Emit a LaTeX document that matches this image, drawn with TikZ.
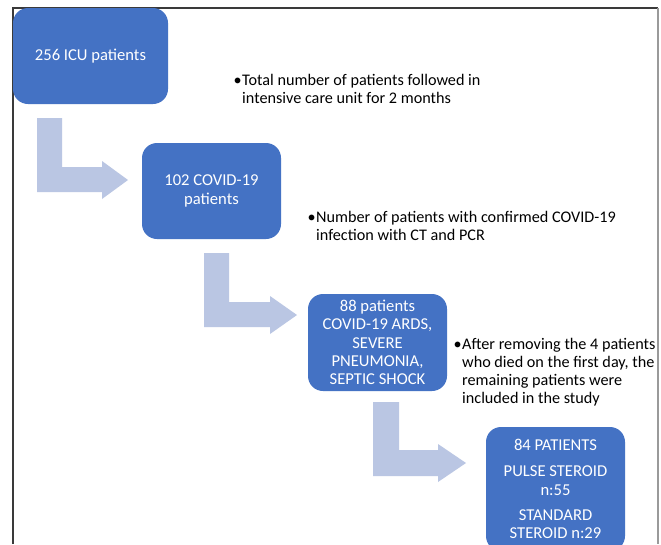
\documentclass[tikz,border=0pt]{standalone}
\usepackage{fontspec}
\setmainfont{Carlito}
\begin{document}
\begin{tikzpicture}[x=1pt,y=-1pt,
  box/.style={fill=boxblue, rounded corners=15pt, text=white, align=center, inner sep=0pt,
    font=\fontsize{16.6}{18.3}\selectfont},
  flow/.style={fill=arrowblue, draw=none},
  note/.style={anchor=north west, align=left, inner sep=0pt, text=black,
    font=\fontsize{16.2}{18}\selectfont},
  bull/.style={anchor=north east, inner sep=0pt, text=black,
    font=\fontsize{16.2}{18}\selectfont}]
\definecolor{boxblue}{HTML}{4472C4}
\definecolor{arrowblue}{HTML}{BAC6E3}
\definecolor{framedark}{HTML}{3A3A3A}
\definecolor{framegray}{HTML}{9A9A9A}
\useasboundingbox (0,0) rectangle (661,544);
\clip (0,0) rectangle (661,544);
\fill[white] (0,0) rectangle (661,544);
% frame
\draw[framedark, line width=1.3pt] (13,544) -- (13,8) -- (658,8);
\draw[framegray, line width=2.6pt] (658,8) -- (658,544);
% boxes
\node[box, minimum width=155pt, minimum height=96pt] (b1) at (90.5,56) {256 ICU patients};
\node[box, minimum width=139pt, minimum height=96pt] (b2) at (211.5,191) {102 COVID-19\\patients};
\node[box, minimum width=139pt, minimum height=97pt] (b3) at (377.5,342.5)
  {88 patients\\COVID-19 ARDS,\\SEVERE\\PNEUMONIA,\\SEPTIC SHOCK};
\node[box, minimum width=139pt, minimum height=124pt] (b4) at (555.5,489)
  {84 PATIENTS\\[8pt]PULSE STEROID\\n:55\\[7pt]STANDARD\\STEROID n:29};
% bent arrows
\fill[flow] (37,118) -- (62,118) -- (62,167) -- (102,167) -- (102,161) -- (128,180)
  -- (102,199) -- (102,192) -- (37,192) -- cycle;
\fill[flow] (204,253) -- (229,253) -- (229,302) -- (270,302) -- (270,296) -- (297,315)
  -- (270,334) -- (270,327) -- (204,327) -- cycle;
\fill[flow] (373,402) -- (399,402) -- (399,450) -- (438,450) -- (438,444) -- (466,463)
  -- (438,482) -- (438,476) -- (373,476) -- cycle;
% notes
\node[note] (n1) at (242,73) {\strut Total number of patients followed in\\intensive care unit for 2 months};
\node[bull] (d1) at (n1.north west) {\strut\textbullet};
\node[note] (n2) at (316,209.6) {\strut Number of patients with confirmed COVID-19\\infection with CT and PCR};
\node[bull] (d2) at (n2.north west) {\strut\textbullet};
\node[note] (n3) at (462,336.6) {\strut After removing the 4 patients\\who died on the first day, the\\remaining patients were\\included in the study};
\node[bull] (d3) at (n3.north west) {\strut\textbullet};
\end{tikzpicture}
\end{document}
